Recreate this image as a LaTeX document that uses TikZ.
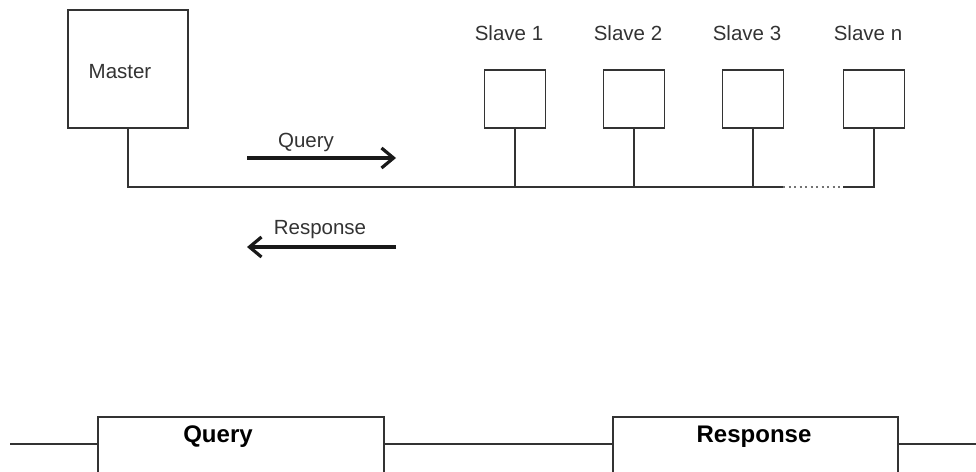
\documentclass[tikz,border=0pt]{standalone}
\usepackage{fontspec}
\setmainfont{Liberation Sans}
\usetikzlibrary{arrows.meta, positioning}

\begin{document}
\begin{tikzpicture}[x=1pt,y=-1pt]
  \def\linecol{black!80}
  \tikzset{
    busline/.style={draw=\linecol, line width=1.8pt},
    flowarrow/.style={draw=black!90, line width=3.2pt,
      -{Straight Barb[length=12pt,width=20pt]}},
    boxnode/.style={draw=\linecol, line width=1.8pt, fill=white, inner sep=0pt},
    lbl/.style={font=\fontsize{20.5}{24}\selectfont, text=black!80, inner sep=0pt},
    framelbl/.style={font=\fontsize{24}{28}\selectfont\bfseries, text=black, inner sep=0pt}
  }
  \useasboundingbox (0,0) rectangle (976,471);

  % --- MASTER ---
  \node[boxnode, minimum width=120pt, minimum height=118pt] (master) at (128,69) {};
  \node[lbl] (mlab) at (120,72) {Master};

  % --- SLAVES ---
  \foreach \i/\x/\t in {1/515/1, 2/634/2, 3/753/3, 4/874/n} {
    \node[boxnode, minimum width=61pt, minimum height=58pt] (s\i) at (\x,99) {};
    \node[lbl] (slab\i) at (\x-6,33) {Slave \t};
  }

  % --- BUS ---
  \coordinate (bm)   at (128,187);
  \coordinate (dot1) at (783,187);
  \coordinate (dot2) at (843,187);
  \coordinate (bn)   at (874,187);
  \draw[busline] (master.south) -- (bm) -- (dot1);
  \draw[busline, draw=black!55, dash pattern=on 2pt off 3.5pt] (dot1) -- (dot2);
  \draw[busline] (dot2) -- (bn) -- (s4.south);
  \foreach \i in {1,2,3}
    \draw[busline] (s\i.south) -- (s\i.south |- bm);

  % --- QUERY / RESPONSE ARROWS ---
  \coordinate (qa) at (247,158);
  \coordinate (qb) at (396,158);
  \draw[flowarrow] (qa) -- (qb);
  \node[lbl] (qlab) at (306,142) {Query};

  \coordinate (ra) at (396,247);
  \coordinate (rb) at (247,247);
  \draw[flowarrow] (ra) -- (rb);
  \node[lbl] (rlab) at (320,230) {Response};

  % --- FRAME SEQUENCE ---
  \begin{scope}
    \clip (0,0) rectangle (976,471);
    \node[boxnode, anchor=north west, minimum width=286pt, minimum height=90pt] (qframe) at (97,416) {};
    \node[boxnode, anchor=north west, minimum width=285pt, minimum height=90pt] (rframe) at (612,416) {};
    \coordinate (lin)  at (10,444);
    \coordinate (lout) at (976,444);
    \draw[busline] (lin) -- (qframe.west |- lin);
    \draw[busline] (qframe.east |- lin) -- (rframe.west |- lin);
    \draw[busline] (rframe.east |- lin) -- (lout);
  \end{scope}
  \node[framelbl] (qflab) at (218,437) {Query};
  \node[framelbl] (rflab) at (754,437) {Response};
\end{tikzpicture}
\end{document}
